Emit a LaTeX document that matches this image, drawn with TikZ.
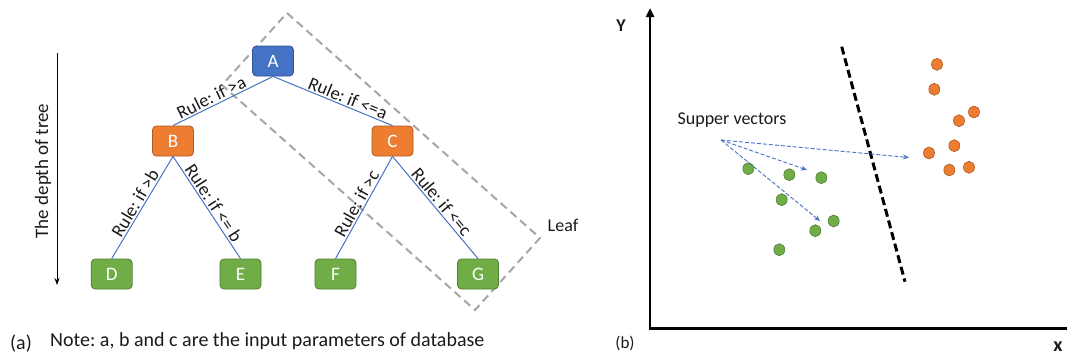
\documentclass[tikz,border=0pt]{standalone}
\usepackage{fontspec}
\setmainfont{Carlito}
\usetikzlibrary{arrows.meta,shapes.geometric}
\definecolor{cblue}{HTML}{4472C4}
\definecolor{cblueB}{HTML}{2F528F}
\definecolor{corange}{HTML}{ED7D31}
\definecolor{corangeB}{HTML}{AE5A21}
\definecolor{cgreen}{HTML}{70AD47}
\definecolor{cgreenB}{HTML}{507E32}
\definecolor{cgrey}{HTML}{A6A6A6}
\definecolor{ctext}{HTML}{1A1A1A}
\tikzset{
  treebox/.style={rectangle, rounded corners=4pt, minimum width=41pt, minimum height=30pt,
    line width=0.8pt, text=white, font=\fontsize{19}{21}\selectfont, inner sep=0pt},
  rootbox/.style={treebox, fill=cblue, draw=cblueB},
  midbox/.style={treebox, fill=corange, draw=corangeB},
  leafnode/.style={treebox, fill=cgreen, draw=cgreenB},
  edge/.style={cblue, line width=1pt},
  rule/.style={sloped, above, inner sep=1.5pt, text=ctext, font=\fontsize{18.5}{20}\selectfont},
  leafbox/.style={cgrey, line width=2pt, dash pattern=on 8pt off 5pt},
  lbl/.style={text=ctext, font=\fontsize{18}{20}\selectfont, inner sep=0pt},
  gdot/.style={ellipse, minimum width=11pt, minimum height=12pt, inner sep=0pt, fill=cgreen, draw=cgreenB, line width=0.6pt},
  odot/.style={ellipse, minimum width=11pt, minimum height=12pt, inner sep=0pt, fill=corange, draw=corangeB, line width=0.6pt},
  svarrow/.style={cblue, line width=0.9pt, dash pattern=on 4pt off 2pt, -{Stealth[length=6pt,width=5pt]}},
  axis/.style={line width=2.7pt, black},
}
\frenchspacing
\begin{document}
\begin{tikzpicture}[x=1pt, y=-1pt]
\useasboundingbox (0,0) rectangle (1067,356);
% ---------- panel (a) ----------
\draw[leafbox] (287,13) -- (540,238) -- (475,310) -- (222,85) -- cycle;
\node[lbl] (leaf) at (563,225) {Leaf};

\node[rootbox] (A) at (273,61) {A};
\node[midbox] (B) at (173,141) {B};
\node[midbox] (C) at (392.5,141) {C};
\node[leafnode] (D) at (111.7,274) {D};
\node[leafnode] (E) at (240.5,274) {E};
\node[leafnode] (F) at (335.5,274) {F};
\node[leafnode] (G) at (478,274) {G};

\draw[edge] (B.north) -- node[rule, pos=0.42] {Rule: if >a} (A.south);
\draw[edge] (A.south) -- node[rule, pos=0.6] {Rule: if <=a} (C.north);
\draw[edge] (D.north) -- node[rule] {Rule: if >b} (B.south);
\draw[edge] (B.south) -- node[rule] {Rule: if <= b} (E.north);
\draw[edge] (F.north) -- node[rule] {Rule: if >c} (C.south);
\draw[edge] (C.south) -- node[rule] {Rule: if <=c} (G.north);

\coordinate (d1) at (57,53);
\coordinate (d2) at (57,285);
\draw[black, line width=0.9pt, -{Stealth[length=7pt,width=5pt]}] (d1) -- (d2);
\node[lbl, rotate=90, font=\fontsize{19}{21}\selectfont] (depth) at (43,171) {The depth of tree};

\node[lbl, font=\fontsize{20}{22}\selectfont] (pa) at (21,344) {(a)};
\node[lbl, anchor=west, font=\fontsize{20}{22}\selectfont] (note) at (50,341) {Note: a, b and c are the input parameters of database};

% ---------- panel (b) ----------
\coordinate (o) at (650,328.3);
\coordinate (ytop) at (650,8);
\coordinate (xend) at (1067,328.3);
\draw[axis, -{Triangle[length=9pt,width=8pt]}] (o) -- (ytop);
\draw[axis] ([xshift=-1.35pt]o) -- (xend);
\node[lbl, font=\bfseries\fontsize{18}{20}\selectfont] (ylab) at (621,26) {Y};
\node[lbl, font=\bfseries\fontsize{20}{22}\selectfont] (xlab) at (1058,347) {x};
\node[lbl, font=\fontsize{17}{19}\selectfont] (pb) at (625,343) {(b)};

\coordinate (h1) at (841.7,46.7);
\coordinate (h2) at (905,281.7);
\draw[black, line width=3pt, dash pattern=on 8pt off 4pt] (h1) -- (h2);

\node[gdot] (g1) at (748.3,168.7) {};
\node[gdot] (g2) at (789.3,174.7) {};
\node[gdot] (g3) at (821.3,177.7) {};
\node[gdot] (g4) at (781.7,199.7) {};
\node[gdot] (g5) at (833.7,221) {};
\node[gdot] (g6) at (815.3,230.7) {};
\node[gdot] (g7) at (779.3,249.7) {};

\node[odot] (o1) at (937,64.3) {};
\node[odot] (o2) at (934.3,89.3) {};
\node[odot] (o3) at (974,112) {};
\node[odot] (o4) at (959,120.7) {};
\node[odot] (o5) at (954.3,145.7) {};
\node[odot] (o6) at (929,153) {};
\node[odot] (o7) at (969,167.3) {};
\node[odot] (o8) at (949.3,170) {};

\node[lbl] (sv) at (732,120) {Supper vectors};
\coordinate (s0) at (721,140);
\coordinate (t1) at (807,170);
\coordinate (t2) at (820,221);
\coordinate (t3) at (909,157.5);
\draw[svarrow] (s0) -- (t1);
\draw[svarrow] (s0) -- (t2);
\draw[svarrow] (s0) -- (t3);
\end{tikzpicture}
\end{document}
